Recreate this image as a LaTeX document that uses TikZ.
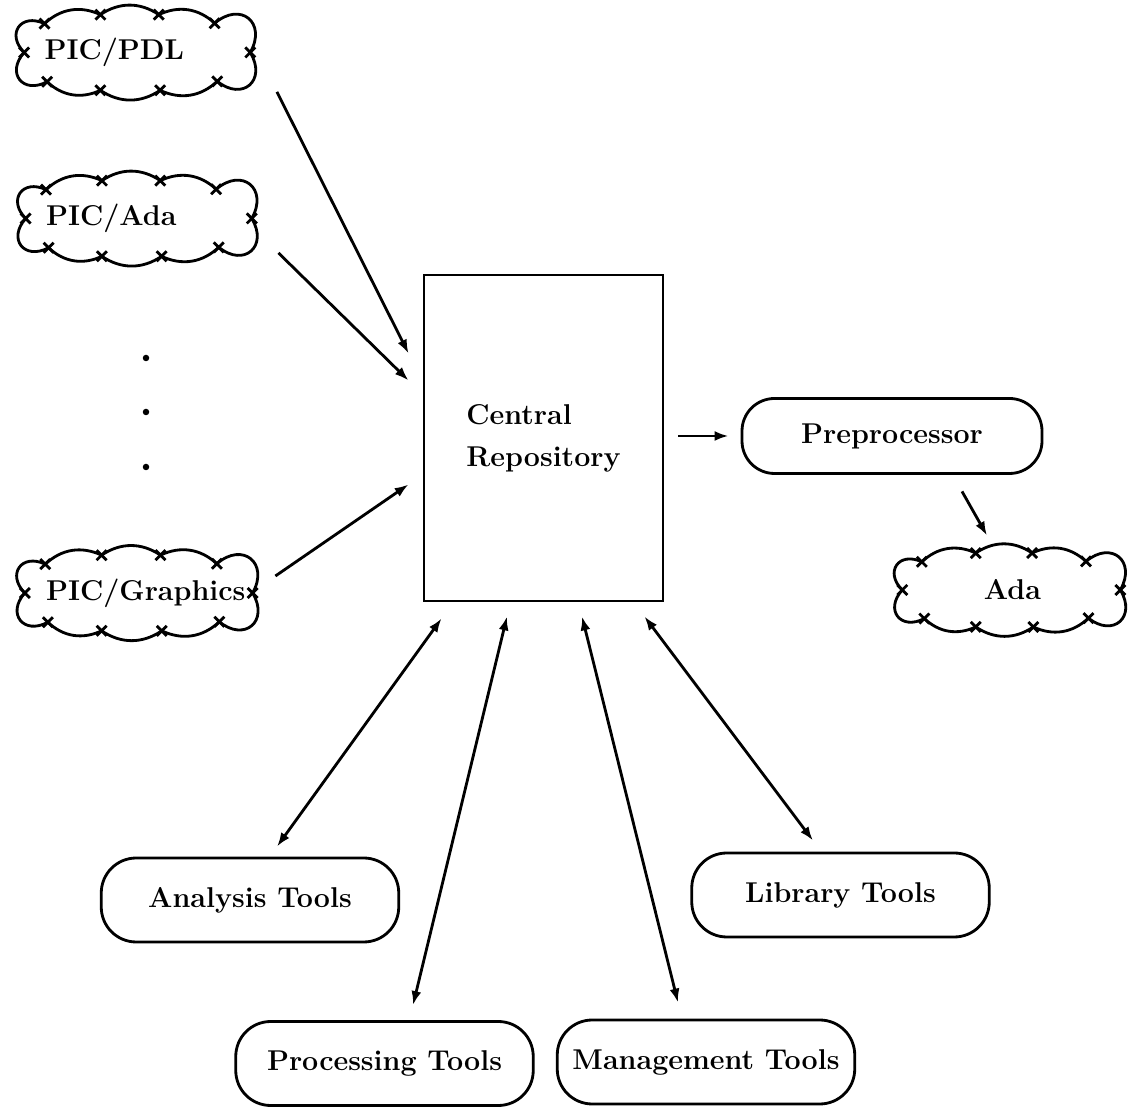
\documentclass[tikz,border=0pt]{standalone}
\usepackage{tikz}
\usetikzlibrary{arrows.meta}

\newcommand{\cloudring}[3]{%
  \begin{scope}[shift={(#1.center)}, x=#2cm, y=#3cm]
    \draw (-0.9,0) to[cornerpuff] (-0.74,0.67) to[sidepuff] (-0.3,0.88) to[sidepuff] (0.16,0.88)
      to[sidepuff] (0.6,0.68) to[cornerpuff] (0.88,0) to[cornerpuff] (0.62,-0.67) to[sidepuff] (0.17,-0.88)
      to[sidepuff] (-0.3,-0.88) to[sidepuff] (-0.72,-0.68) to[cornerpuff] (-0.9,0);
    \foreach \u/\v in {-0.9/0, -0.74/0.67, -0.3/0.88, 0.16/0.88, 0.6/0.68, 0.88/0, 0.62/-0.67, 0.17/-0.88, -0.3/-0.88, -0.72/-0.68}
      \draw (\u,\v) +(-0.1cm,-0.1cm) -- +(0.1cm,0.1cm) +(-0.1cm,0.1cm) -- +(0.1cm,-0.1cm);
  \end{scope}}

\begin{document}
\begin{tikzpicture}[
  font=\fontsize{16.3}{24}\selectfont\bfseries,
  line width=1.6pt,
  cornerpuff/.style={bend left=80, looseness=1.9},
  sidepuff/.style={bend left=34},
  leftcloud/.style={minimum width=5.08cm, minimum height=1.72cm, text width=3.76cm, inner xsep=0.66cm, align=left},
  rightcloud/.style={minimum width=4.9cm, minimum height=1.68cm, align=center},
  repobox/.style={draw, minimum width=4.78cm, minimum height=6.52cm, align=left},
  toolbox/.style={draw, rounded corners=0.7cm, minimum width=5.95cm, minimum height=1.68cm},
  prebox/.style={draw, rounded corners=0.65cm, minimum width=6.0cm, minimum height=1.5cm},
  dotmark/.style={circle, fill, inner sep=0pt, minimum size=0.13cm},
  >={Latex[length=0.28cm,width=0.2cm]}
]
\useasboundingbox (0,0) rectangle (22.74,22.14);

\node[leftcloud] (pdl) at (2.77,21.09) {PIC/PDL};
\node[leftcloud] (picada) at (2.80,17.77) {PIC/Ada};
\node[leftcloud] (graphics) at (2.80,10.28) {PIC/Graphics};
\node[rightcloud] (ada) at (20.25,10.34) {Ada};
\cloudring{pdl}{2.54}{0.86}
\cloudring{picada}{2.54}{0.86}
\cloudring{graphics}{2.56}{0.86}
\cloudring{ada}{2.45}{0.84}

\node[dotmark] (dot1) at (2.92,14.98) {};
\node[dotmark] (dot2) at (2.92,13.90) {};
\node[dotmark] (dot3) at (2.92,12.80) {};

\node[repobox] (repo) at (10.87,13.38) {Central\\Repository};
\node[prebox] (pre) at (17.84,13.42) {Preprocessor};

\node[toolbox] (analysis) at (5.0,4.14) {Analysis Tools};
\node[toolbox] (library) at (16.81,4.24) {Library Tools};
\node[toolbox] (processing) at (7.69,0.87) {Processing Tools};
\node[toolbox] (management) at (14.12,0.90) {Management Tools};

\draw[->] ([shift={(0.2,0.1)}]pdl.south east) -- ([shift={(-0.28,-1.6)}]repo.north west);
\draw[->] ([shift={(0.2,0.2)}]picada.south east) -- ([shift={(-0.28,-2.14)}]repo.north west);
\draw[->] ([shift={(0.14,0.34)}]graphics.east) -- ([shift={(-0.28,2.36)}]repo.south west);
\draw[->, shorten <=0.28cm, shorten >=0.24cm] (repo.east |- pre.west) -- (pre.west);
\draw[->] ([shift={(1.4,-0.33)}]pre.south) -- ([shift={(-0.51,0.22)}]ada.north);

\draw[<->] ([shift={(0.54,0.2)}]analysis.north) -- ([shift={(0.38,-0.32)}]repo.south west);
\draw[<->] ([shift={(0.57,0.3)}]processing.north) -- ([shift={(-0.73,-0.28)}]repo.south);
\draw[<->] ([shift={(-0.56,0.32)}]management.north) -- ([shift={(0.77,-0.28)}]repo.south);
\draw[<->] ([shift={(-0.55,0.22)}]library.north) -- ([shift={(-0.40,-0.28)}]repo.south east);
\end{tikzpicture}
\end{document}
